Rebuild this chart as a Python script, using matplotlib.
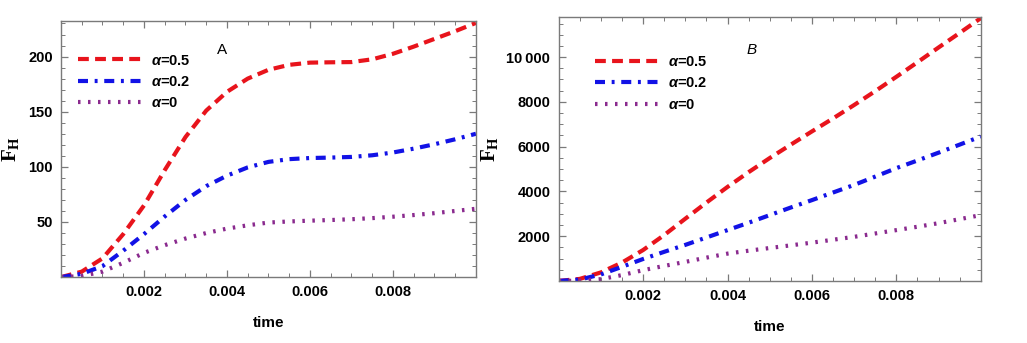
import matplotlib
matplotlib.use("Agg")
import matplotlib.pyplot as plt
from matplotlib.ticker import MultipleLocator, FixedLocator

plt.rcParams["font.family"] = ["Liberation Sans", "DejaVu Sans"]
plt.rcParams["mathtext.fontset"] = "custom"
plt.rcParams["mathtext.it"] = "Liberation Sans:italic:bold"
plt.rcParams["mathtext.rm"] = "Liberation Sans:bold"
plt.rcParams["mathtext.bf"] = "Liberation Serif:bold"

# time grid (read every 0.0005)
time = [i * 0.0005 for i in range(21)]

# panel A
a_05 = [0, 5, 17, 39, 65, 97, 127, 151, 168, 180, 188, 192.5, 194.5, 194.8,
        195, 197.5, 202.5, 209, 216, 223, 230.5]
a_02 = [0, 3, 10, 24, 39, 55, 70, 82.5, 92, 99.5, 104.5, 107, 108, 108.4, 109,
        110.5, 113, 116.5, 120.5, 125, 130]
a_00 = [0, 1, 5, 13, 22, 29, 35, 40, 44, 47, 49.5, 50.5, 51.2, 51.8, 52.5, 53.5,
        54.8, 56.3, 58, 60, 62]

# panel B
b_05 = [0, 90, 380, 820, 1380, 2050, 2780, 3500, 4200, 4860, 5490, 6090,
        6680, 7260, 7860, 8480, 9120, 9770, 10430, 11080, 11740]
b_02 = [0, 60, 290, 630, 980, 1300, 1610, 1940, 2270, 2600, 2940, 3280,
        3610, 3950, 4290, 4660, 5040, 5380, 5730, 6090, 6450]
b_00 = [0, 10, 80, 260, 480, 670, 850, 1040, 1220, 1350, 1470, 1590, 1710,
        1840, 1970, 2120, 2270, 2420, 2580, 2760, 2940]

labels = [r"$\alpha$=0.5", r"$\alpha$=0.2", r"$\alpha$=0"]
colors = ["#e8141c", "#1212e6", "#8a2a8e"]
dashes = [(2.6, 1.5), (2.4, 1.6, 0.7, 1.6), (0.6, 1.8)]
xticks = [0.002, 0.004, 0.006, 0.008]

fig = plt.figure(figsize=(10.27, 3.43), dpi=100)
ax_a = fig.add_axes([0.0594, 0.192, 0.404, 0.746])
ax_b = fig.add_axes([0.544, 0.181, 0.411, 0.770])


def style_axes(ax, ymax, ymajor, yminor, yticklabels):
    for s in ax.spines.values():
        s.set_color("#7a7a7a")
        s.set_linewidth(1.0)
    ax.set_xlim(0, 0.01)
    ax.set_ylim(0, ymax)
    ax.xaxis.set_major_locator(FixedLocator(xticks))
    ax.xaxis.set_minor_locator(MultipleLocator(0.0005))
    ax.set_xticklabels([f"{t:.3f}" for t in xticks])
    ax.yaxis.set_major_locator(FixedLocator(ymajor))
    ax.yaxis.set_minor_locator(MultipleLocator(yminor))
    ax.set_yticklabels(yticklabels)
    ax.tick_params(which="both", direction="in", top=True, right=True,
                   color="#7a7a7a", labelsize=10.5, pad=6)
    ax.tick_params(which="major", length=5, width=0.9)
    ax.tick_params(which="minor", length=3, width=0.7)
    for lab in ax.get_xticklabels() + ax.get_yticklabels():
        lab.set_fontweight("bold")
    ax.set_xlabel("time", fontsize=11, fontweight="bold", labelpad=12)
    ax.set_ylabel(r"$\mathbf{F}_{\mathbf{H}}$", fontsize=15, labelpad=4)


for ax, series in ((ax_a, (a_05, a_02, a_00)), (ax_b, (b_05, b_02, b_00))):
    for vals, lab, c, d in zip(series, labels, colors, dashes):
        ax.plot(time, vals, color=c, lw=3.0, dashes=d, label=lab)

style_axes(ax_a, 232, [50, 100, 150, 200], 10, ["50", "100", "150", "200"])
style_axes(ax_b, 11800, [2000, 4000, 6000, 8000, 10000], 500,
           ["2000", "4000", "6000", "8000", "10\u2009000"])

ax_a.text(0.388, 0.887, "A", transform=ax_a.transAxes, fontsize=11,
          ha="center", va="center")
ax_b.text(0.458, 0.875, "B", transform=ax_b.transAxes, fontsize=11,
          ha="center", va="center", style="italic")

for ax, anchor in ((ax_a, (0.01, 0.925)), (ax_b, (0.055, 0.905))):
    leg = ax.legend(loc="upper left", bbox_to_anchor=anchor, frameon=False,
                    handlelength=4.4, handletextpad=0.6, labelspacing=0.5,
                    fontsize=10.5)
    for t in leg.get_texts():
        t.set_fontweight("bold")

fig.savefig("out.png", dpi=100)
